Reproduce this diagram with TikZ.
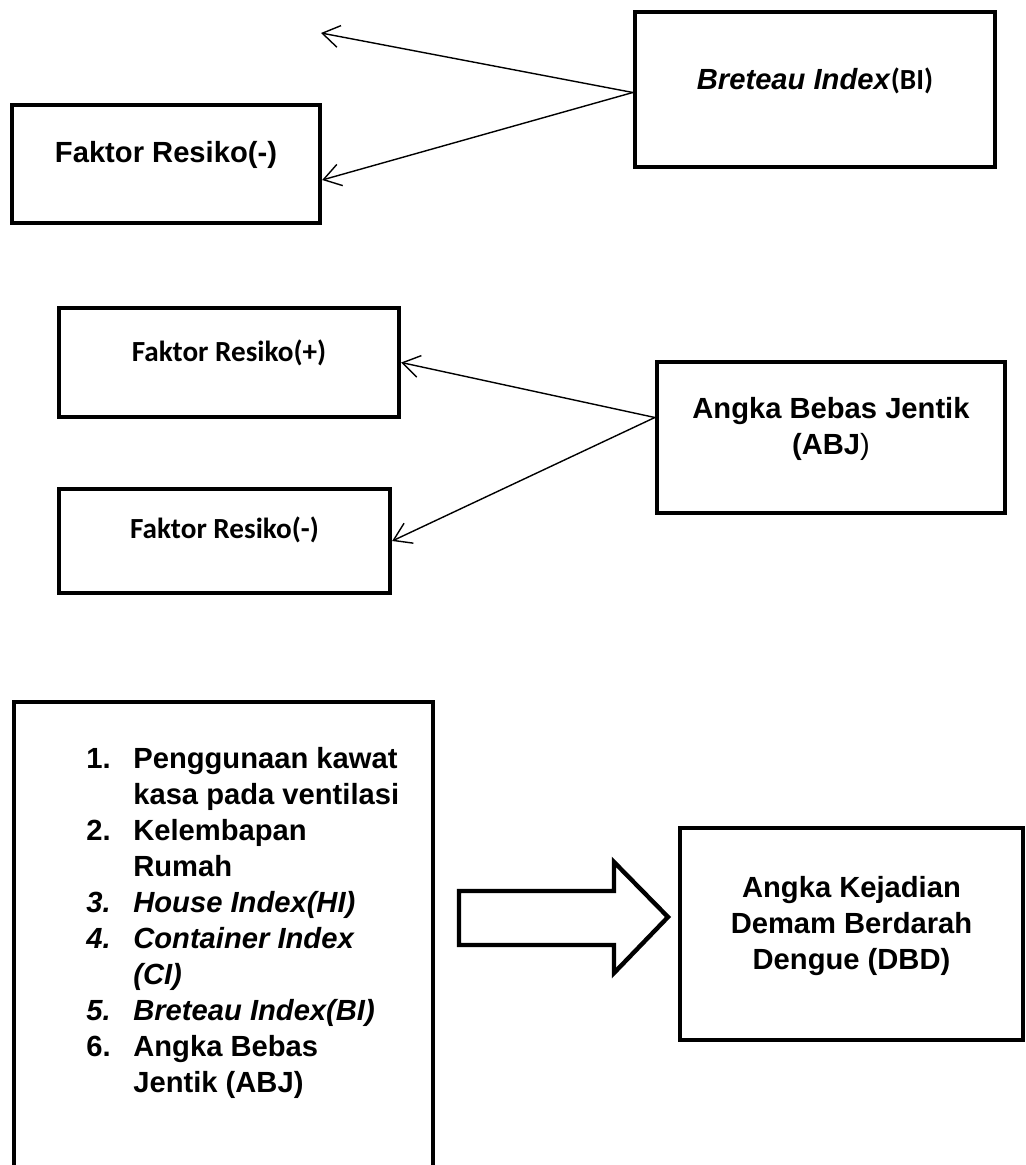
\documentclass[tikz,border=0pt]{standalone}
\usepackage{fontspec}
\setmainfont{Liberation Sans}
\newfontfamily\calibri{Carlito}
\usetikzlibrary{arrows.meta, positioning, calc}

\begin{document}
\begin{tikzpicture}[
        x=0.02cm, y=-0.02cm,
        box/.style={rectangle, draw=black, line width=2.5pt, inner sep=0pt},
        txt/.style={align=center, inner sep=0pt, font=\fontsize{16.6}{20.5}\selectfont\bfseries},
        link/.style={-{Straight Barb[length=3.4mm, width=4.4mm]}, line width=0.8pt},
    ]
        \useasboundingbox (0,0) rectangle (1025,1165);

        % Breteau Index
        \node[box, minimum width=7.2cm, minimum height=3.1cm] (bi) at (815,89.5) {};
        \node[txt] (bi-t) at ($(bi.center)+(0,-9)$) {\textit{Breteau Index}{\calibri(BI)}};
        \node[box, minimum width=6.16cm, minimum height=2.36cm] (fr1) at (166,164) {};
        \node[txt] (fr1-t) at ($(fr1.center)+(0,-9)$) {Faktor Resiko(-)};
        \coordinate (up) at (321,33);
        \draw[link] ($(bi.west)+(0,3)$) -- (up);
        \draw[link] ($(bi.west)+(0,3)$) -- ($(fr1.east)+(0,16)$);

        % Angka Bebas Jentik
        \node[box, minimum width=6.96cm, minimum height=3.02cm] (abj) at (831,437.5) {};
        \node[txt] (abj-t) at ($(abj.center)+(0,-9)$) {Angka Bebas Jentik\\(ABJ{\mdseries)}};
        \node[box, minimum width=6.8cm, minimum height=2.18cm] (fr2) at (229,362.5) {};
        \node[txt, font=\fontsize{16.6}{20.5}\selectfont\bfseries\calibri] (fr2-t) at ($(fr2.center)+(0,-10)$) {Faktor Resiko(+)};
        \node[box, minimum width=6.62cm, minimum height=2.08cm] (fr3) at (224.5,541) {};
        \node[txt, font=\fontsize{16.6}{20.5}\selectfont\bfseries\calibri] (fr3-t) at ($(fr3.center)+(0,-11)$) {Faktor Resiko(-)};
        \draw[link] ($(abj.west)+(0,-20)$) -- (fr2.east);
        \draw[link] ($(abj.west)+(0,-20)$) -- (fr3.east);

        % variabel dan DBD
        \node[box, minimum width=8.38cm, minimum height=9.8cm] (vars) at (223.5,947) {};
        \node[txt, anchor=base west] (vars-t) at (86,768) {%
            \begin{tabular}[t]{@{}p{0.94cm}@{}l@{}}
                1. & Penggunaan kawat\\
                   & kasa pada ventilasi\\
                2. & Kelembapan\\
                   & Rumah\\
                \textit{3.} & \textit{House Index(HI)}\\
                \textit{4.} & \textit{Container Index}\\
                   & \textit{(CI)}\\
                \textit{5.} & \textit{Breteau Index(BI)}\\
                6. & Angka Bebas\\
                   & Jentik (ABJ)
            \end{tabular}};
        \node[box, minimum width=6.86cm, minimum height=4.24cm] (dbd) at (851.5,934) {};
        \node[txt] (dbd-t) at ($(dbd.center)+(0,-8)$) {Angka Kejadian\\Demam Berdarah\\Dengue (DBD)};
        \draw[line width=2.5pt] (459,891) -- (614,891) -- (614,862) -- (668,917)
            -- (614,973) -- (614,945) -- (459,945) -- cycle;
    \end{tikzpicture}
\end{document}
